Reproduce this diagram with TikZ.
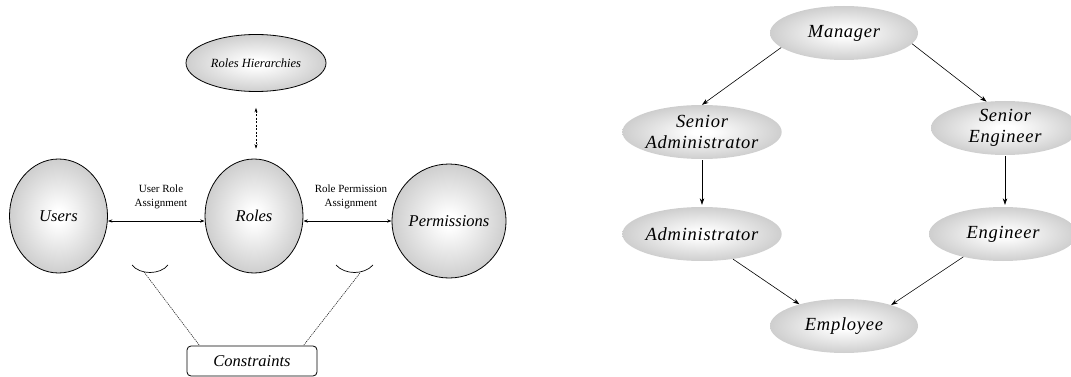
\documentclass[tikz,border=0pt]{standalone}
\usepackage{fontspec}
\setmainfont{Liberation Serif}
\newfontfamily\trackedfont[LetterSpace=4]{Liberation Serif}
\usetikzlibrary{shapes.geometric,arrows.meta}

\colorlet{rimgray}{black!27}
\pgfdeclareradialshading{ballfill}{\pgfpoint{0bp}{0bp}}{color(0bp)=(white);color(3bp)=(white);color(34bp)=(rimgray);color(50bp)=(rimgray)}

\tikzset{
  ball/.style={ellipse, shading=ballfill, inner sep=0pt},
  entity/.style={ball, draw=black, line width=0.8pt, minimum width=98pt, minimum height=114pt,
    font=\itshape\fontsize{16.5}{19}\selectfont},
  rank/.style={ball, minimum width=148pt, minimum height=54pt, align=center,
    font=\trackedfont\itshape\fontsize{18.5}{21}\selectfont},
  assignlabel/.style={align=center, inner sep=0pt, font=\fontsize{11}{14}\selectfont},
  assign/.style={line width=0.6pt, {Stealth[length=4.5pt,width=3.2pt]}-{Stealth[length=4.5pt,width=3.2pt]}},
  inherit/.style={line width=0.6pt, -{Stealth[length=6.5pt,width=4.5pt]}},
  guide/.style={black!85, line width=0.6pt, dash pattern=on 1.2pt off 0.9pt},
  cup/.style={line width=0.7pt}
}

\begin{document}
\begin{tikzpicture}[x=1pt, y=-1pt]
  \useasboundingbox (0,0) rectangle (1071,377);
  \clip (0,0) rectangle (1071,377);

  % ---- RBAC model ----
  \node[ball, draw=black, line width=0.8pt, minimum width=140pt, minimum height=57pt,
        font=\itshape\fontsize{12.5}{15}\selectfont] (rh) at (256,63) {Roles Hierarchies};
  \node[entity] (users) at (58.5,216) {Users};
  \node[entity] (roles) at (254,216) {Roles};
  \node[entity] (perm)  at (449,221) {Permissions};

  \draw[line width=0.5pt, dash pattern=on 2pt off 1.5pt,
        {Stealth[length=4.5pt,width=3pt]}-{Stealth[length=4.5pt,width=3pt]},
        shorten <=16pt, shorten >=10pt] (rh.south) -- (rh.south |- roles.north);

  \draw[assign] ([yshift=-5pt]users.east) -- ([yshift=-5pt]roles.west);
  \draw[assign] ([yshift=-5pt]roles.east) -- (perm.west);

  \node[assignlabel] (ura) at (161,197) {User Role\\Assignment};
  \node[assignlabel] (rpa) at (351,197) {Role Permission\\Assignment};

  \node[draw=black, line width=0.8pt, rounded corners=4pt, minimum width=130pt, minimum height=30pt,
        inner sep=0pt, font=\itshape\fontsize{16.5}{19}\selectfont] (con) at (252,361) {Constraints};

  \draw[cup] (132,265) .. controls (140,275) and (160,275) .. (168,265);
  \draw[cup] (336,265) .. controls (345,275) and (364,275) .. (373,265);
  \coordinate (cupL) at (144,272);
  \coordinate (cupR) at (360,273);
  \draw[guide] (cupL) -- ([xshift=13pt]con.north west);
  \draw[guide] (cupR) -- ([xshift=-14pt]con.north east);

  % ---- role hierarchy ----
  \node[rank] (mgr)  at (844,33)  {Manager};
  \node[rank] (sadm) at (702,132) {Senior\\Administrator};
  \node[rank] (seng) at (1005,128) {Senior\\Engineer};
  \node[rank] (adm)  at (702,234) {Administrator};
  \node[rank] (eng)  at (1003,234) {Engineer};
  \node[rank] (emp)  at (844,326) {Employee};

  \draw[inherit] (mgr.193.6) -- (sadm.north);
  \draw[inherit] (mgr.351) -- (seng.125.5);
  \draw[inherit, shorten <=1pt, shorten >=2pt] (sadm.south) -- (adm.north);
  \draw[inherit, shorten <=1pt, shorten >=2pt] (seng.south) -- (seng.south |- eng.north);
  \draw[inherit] (adm.321) -- (emp.154);
  \draw[inherit] (eng.210) -- (emp.24);
\end{tikzpicture}
\end{document}
